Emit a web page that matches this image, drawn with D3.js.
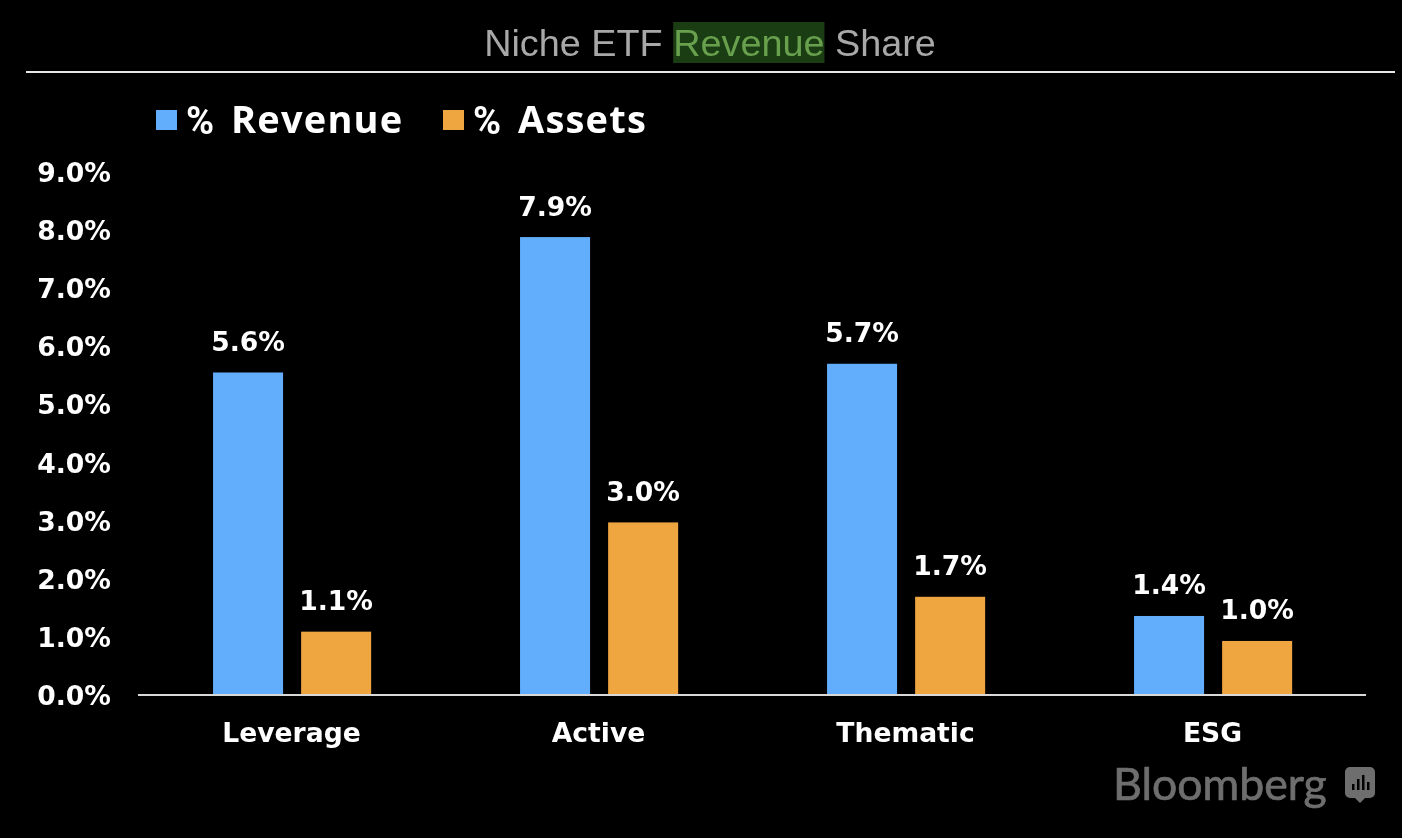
<!DOCTYPE html>
<html>
<head>
<meta charset="utf-8">
<script src="https://cdn.jsdelivr.net/npm/d3@7"></script>
<style>
  html, body { margin: 0; background: #000; overflow: hidden; }
  text { fill: #fff; }
  .val, .tick text, .cat { font-family: "DejaVu Sans"; font-weight: bold; }
</style>
</head>
<body>
<div id="chart"></div>
<script>
var categories = ["Leverage", "Active", "Thematic", "ESG"];
var seriesNames = ["% Revenue", "% Assets"];
// bar heights
var revenue = [5.55, 7.88, 5.7, 1.36];
var assets = [1.09, 2.97, 1.69, 0.93];
// printed labels
var revenueLabels = ["5.6%", "7.9%", "5.7%", "1.4%"];
var assetsLabels = ["1.1%", "3.0%", "1.7%", "1.0%"];
var yTicks = [0, 1, 2, 3, 4, 5, 6, 7, 8, 9];
var colors = ["#62aefc", "#f0a640"];

var width = 1402, height = 838;
var left = 138, right = 1366, bottom = 695, top9 = 172;

var svg = d3.select("#chart").append("svg")
  .attr("width", width)
  .attr("height", height)
  .style("display", "block")
  .style("filter", "blur(0.6px)");

svg.append("rect").attr("width", width).attr("height", height).attr("fill", "#000");

// title with the highlighted word
var title = svg.append("text")
  .attr("x", 710).attr("y", 56)
  .attr("text-anchor", "middle")
  .style("font-family", "Liberation Sans")
  .style("font-size", "37.8px");
title.append("tspan").text("Niche ETF ").style("fill", "#a8a8a8");
title.append("tspan").text("Revenue").style("fill", "#68a04e");
title.append("tspan").text(" Share").style("fill", "#a8a8a8");

var node = title.node();
var hlStart = node.getStartPositionOfChar(10).x;
var hlWidth = node.getSubStringLength(10, 7);
svg.insert("rect", "text")
  .attr("x", hlStart).attr("y", 22)
  .attr("width", hlWidth).attr("height", 41)
  .attr("fill", "#1b3d13");

svg.append("line")
  .attr("x1", 26).attr("x2", 1395)
  .attr("y1", 72).attr("y2", 72)
  .attr("stroke", "#e8e8e8").attr("stroke-width", 2);

// scales
var y = d3.scaleLinear().domain([0, 9]).range([bottom, top9]);
var x0 = d3.scaleBand().domain(categories).range([left, right]).paddingInner(0.485).paddingOuter(0.2425);
var x1 = d3.scaleBand().domain(seriesNames).range([0, x0.bandwidth()]).paddingInner(0.205);

// y axis
var yAxis = svg.append("g")
  .attr("transform", "translate(" + 111 + ",1)")
  .call(d3.axisLeft(y).tickValues(yTicks).tickSize(0).tickPadding(0).tickFormat(function(d) { return d3.format(".1f")(d) + "%"; }));
yAxis.select(".domain").remove();
yAxis.selectAll("text").style("font-size", "26.6px").style("fill", "#fff");

// bars
var series = [
  { name: seriesNames[0], values: revenue, labels: revenueLabels, color: colors[0] },
  { name: seriesNames[1], values: assets, labels: assetsLabels, color: colors[1] }
];

series.forEach(function(s) {
  var g = svg.append("g").attr("transform", "translate(0.6,0)");
  g.selectAll("rect").data(s.values).enter().append("rect")
    .attr("x", function(d, i) { return x0(categories[i]) + x1(s.name); })
    .attr("y", function(d) { return y(d); })
    .attr("width", x1.bandwidth())
    .attr("height", function(d) { return bottom - y(d); })
    .attr("fill", s.color);
  g.selectAll("text").data(s.values).enter().append("text")
    .attr("class", "val")
    .attr("x", function(d, i) { return x0(categories[i]) + x1(s.name) + x1.bandwidth() / 2; })
    .attr("y", function(d) { return y(d) - 21.5; })
    .attr("text-anchor", "middle")
    .style("font-size", "26.6px")
    .text(function(d, i) { return s.labels[i]; });
});

// x axis
svg.append("line")
  .attr("x1", left).attr("x2", right)
  .attr("y1", bottom).attr("y2", bottom)
  .attr("stroke", "#d8d8d8").attr("stroke-width", 2);

svg.selectAll(".cat").data(categories).enter().append("text")
  .attr("class", "cat")
  .attr("x", function(d) { return x0(d) + x0.bandwidth() / 2; })
  .attr("y", 742)
  .attr("text-anchor", "middle")
  .style("font-size", "26.6px")
  .text(function(d) { return d; });

// legend, the % sign is narrower than the word in the original
var legendX = [156, 443];
var legendWordX = [231, 518];
seriesNames.forEach(function(name, i) {
  var parts = name.split(" ");
  svg.append("rect")
    .attr("x", legendX[i]).attr("y", 110)
    .attr("width", 21).attr("height", 20)
    .attr("fill", colors[i]);
  svg.append("text")
    .attr("x", legendX[i] + 30).attr("y", 134)
    .style("font-family", "Roboto")
    .style("font-weight", "bold")
    .style("font-size", "38px")
    .text(parts[0]);
  svg.append("text")
    .attr("x", legendWordX[i]).attr("y", 133)
    .style("font-family", "Open Sans")
    .style("font-weight", "bold")
    .style("font-size", "38px")
    .style("letter-spacing", "1.2px")
    .text(parts[1]);
});

// logo
svg.append("text")
  .attr("x", 1113).attr("y", 800)
  .style("font-family", "Lato")
  .style("font-size", "44.6px")
  .style("fill", "#6e6e6e")
  .style("stroke", "#6e6e6e")
  .style("stroke-width", "0.7px")
  .text("Bloomberg");

var logo = svg.append("g").attr("transform", "translate(1345,767)");
logo.append("path")
  .attr("d", "M5,0H25a5,5 0 0 1 5,5V26a5,5 0 0 1 -5,5H20L15,36L10,31H5a5,5 0 0 1 -5,-5V5a5,5 0 0 1 5,-5Z")
  .attr("fill", "#6e6e6e");
[[7, 17, 6], [12, 12, 11], [17, 8, 15], [22, 15, 8]].forEach(function(b) {
  logo.append("rect")
    .attr("x", b[0]).attr("y", b[1])
    .attr("width", 2.5).attr("height", b[2])
    .attr("fill", "#000");
});
</script>
</body>
</html>
